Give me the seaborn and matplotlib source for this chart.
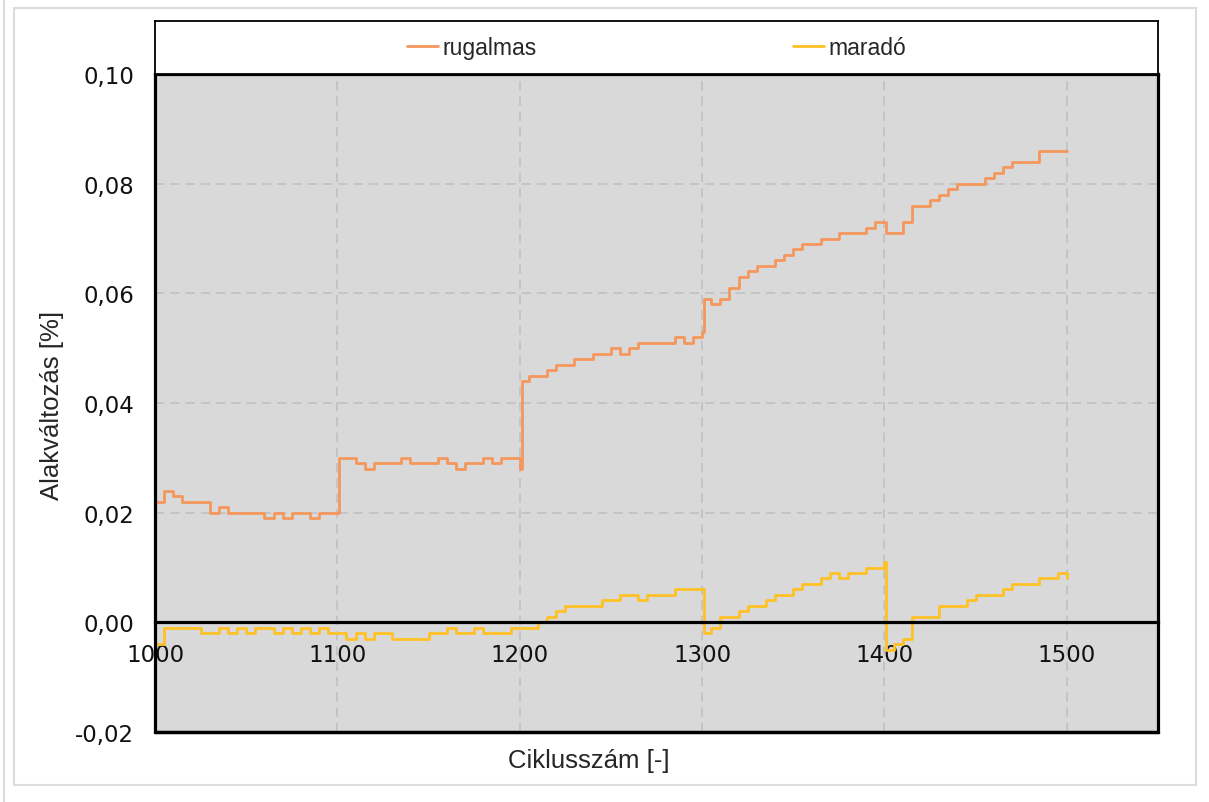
import pandas as pd
import matplotlib
matplotlib.use("Agg")
import matplotlib.pyplot as plt
import seaborn as sns
from matplotlib.lines import Line2D
from matplotlib.patches import Rectangle
from matplotlib.ticker import FuncFormatter

# --- Data (every 5 cycles + the points right after the jumps) ---
ciklus = sorted(list(range(1000, 1501, 5)) + [1101, 1201, 1301, 1401])

rugalmas = [
    0.022, 0.024, 0.023, 0.022, 0.022, 0.022, 0.020, 0.021, 0.020, 0.020,
    0.020, 0.020, 0.019, 0.020, 0.019, 0.020, 0.020, 0.019, 0.020, 0.020,   # 1000-1095
    0.020, 0.030,                                                           # 1100, 1101
    0.030, 0.029, 0.028, 0.029, 0.029, 0.029, 0.030, 0.029, 0.029, 0.029,
    0.030, 0.029, 0.028, 0.029, 0.029, 0.030, 0.029, 0.030, 0.030,          # 1105-1195
    0.028, 0.044,                                                           # 1200, 1201
    0.045, 0.045, 0.046, 0.047, 0.047, 0.048, 0.048, 0.049, 0.049, 0.050,
    0.049, 0.050, 0.051, 0.051, 0.051, 0.051, 0.052, 0.051, 0.052,          # 1205-1295
    0.053, 0.059,                                                           # 1300, 1301
    0.058, 0.059, 0.061, 0.063, 0.064, 0.065, 0.065, 0.066, 0.067, 0.068,
    0.069, 0.069, 0.070, 0.070, 0.071, 0.071, 0.071, 0.072, 0.073,          # 1305-1395
    0.073, 0.071,                                                           # 1400, 1401
    0.071, 0.073, 0.076, 0.076, 0.077, 0.078, 0.079, 0.080, 0.080, 0.080,
    0.081, 0.082, 0.083, 0.084, 0.084, 0.084, 0.086, 0.086, 0.086, 0.086,   # 1405-1500
]

marado = [
    -0.004, -0.001, -0.001, -0.001, -0.001, -0.002, -0.002, -0.001, -0.002, -0.001,
    -0.002, -0.001, -0.001, -0.002, -0.001, -0.002, -0.001, -0.002, -0.001, -0.002,  # 1000-1095
    -0.002, -0.002,                                                                  # 1100, 1101
    -0.003, -0.002, -0.003, -0.002, -0.002, -0.003, -0.003, -0.003, -0.003, -0.002,
    -0.002, -0.001, -0.002, -0.002, -0.001, -0.002, -0.002, -0.002, -0.001,          # 1105-1195
    -0.001, -0.001,                                                                  # 1200, 1201
    -0.001, 0.000, 0.001, 0.002, 0.003, 0.003, 0.003, 0.003, 0.004, 0.004,
    0.005, 0.005, 0.004, 0.005, 0.005, 0.005, 0.006, 0.006, 0.006,                   # 1205-1295
    0.006, -0.002,                                                                   # 1300, 1301
    -0.001, 0.001, 0.001, 0.002, 0.003, 0.003, 0.004, 0.005, 0.005, 0.006,
    0.007, 0.007, 0.008, 0.009, 0.008, 0.009, 0.009, 0.010, 0.010,                   # 1305-1395
    0.011, -0.005,                                                                   # 1400, 1401
    -0.004, -0.003, 0.001, 0.001, 0.001, 0.003, 0.003, 0.003, 0.004, 0.005,
    0.005, 0.005, 0.006, 0.007, 0.007, 0.007, 0.008, 0.008, 0.009, 0.008,           # 1405-1500
]

sorozatok = ["rugalmas", "maradó"]
x_ticks = [1000, 1100, 1200, 1300, 1400, 1500]
y_ticks = [-0.02, 0.00, 0.02, 0.04, 0.06, 0.08, 0.10]

ORANGE = "#F5975C"
YELLOW = "#FFC125"

df = pd.DataFrame({
    "Ciklus": ciklus * 2,
    "Alakvaltozas": rugalmas + marado,
    "Sorozat": [sorozatok[0]] * len(ciklus) + [sorozatok[1]] * len(ciklus),
})

sns.set_theme(style="white")
plt.rcParams["font.family"] = ["DejaVu Sans"]

W, H = 1209, 803
fig = plt.figure(figsize=(W / 100, H / 100), dpi=100)

# --- main plot area ---
ax = fig.add_axes([155 / W, 1 - 733 / H, 1003 / W, 658 / H])
ax.set_facecolor("#D9D9D9")
ax.grid(True, color="#BEBEBE", linestyle=(0, (6, 4)), linewidth=1.1)
ax.set_axisbelow(True)

sns.lineplot(data=df, x="Ciklus", y="Alakvaltozas", hue="Sorozat",
             palette={sorozatok[0]: ORANGE, sorozatok[1]: YELLOW},
             estimator=None, linewidth=2.0, drawstyle="steps-post",
             legend=False, ax=ax)

ax.set_xlim(1000, 1550)
ax.set_ylim(-0.02, 0.10)
ax.set_xticks(x_ticks)
ax.set_yticks(y_ticks)
ax.yaxis.set_major_formatter(FuncFormatter(lambda v, p: f"{v:.2f}".replace(".", ",")))

for side in ["left", "top", "right", "bottom"]:
    ax.spines[side].set_color("black")
    ax.spines[side].set_linewidth(2.3)
ax.spines["bottom"].set_position(("data", 0))
ax.axhline(-0.02, color="black", linewidth=2.5, clip_on=False)

ax.tick_params(axis="x", length=0, pad=15, labelsize=16.5, colors="#111111")
ax.tick_params(axis="y", length=0, pad=15, labelsize=16.5, colors="#111111")

ax.set_xlabel("Ciklusszám [-]", fontsize=18.5, family="Liberation Sans")
ax.xaxis.set_label_coords(0.4327, -0.0426)
ax.xaxis.label.set_va("center")
ax.set_ylabel("Alakváltozás [%]", fontsize=18.5, family="Liberation Sans")
ax.yaxis.set_label_coords(-0.1027, 0.4985)
ax.yaxis.label.set_va("center")

# --- legend box above the plot ---
lax = fig.add_axes([155 / W, 1 - 75 / H, 1003 / W, 53 / H])
lax.set_facecolor("white")
lax.set_xticks([])
lax.set_yticks([])
for side in lax.spines:
    lax.spines[side].set_color("black")
    lax.spines[side].set_linewidth(1.3)
handles = [Line2D([], [], color=ORANGE, linewidth=2),
           Line2D([], [], color=YELLOW, linewidth=2)]
lax.legend(handles, sorozatok, loc="center", ncol=2, frameon=False,
           prop={"family": "Liberation Sans", "size": 16.5},
           handlelength=1.35, handletextpad=0.2, columnspacing=11.2)

# --- light outer frame ---
fig.add_artist(Rectangle((14 / W, 1 - 786 / H), 1182 / W, 777 / H,
                         transform=fig.transFigure, fill=False,
                         edgecolor="#DCDCDC", linewidth=1.5))
fig.add_artist(Line2D([4 / W, 4 / W], [0, 1], transform=fig.transFigure,
                      color="#DCDCDC", linewidth=1.5))

fig.savefig("out.png", dpi=100)
